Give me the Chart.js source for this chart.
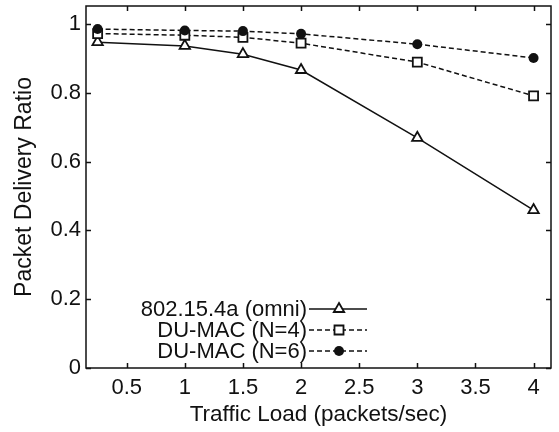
<!DOCTYPE html>
<html lang="en">
<head>
<meta charset="UTF-8">
<title>Packet Delivery Ratio</title>
<script src="https://cdn.jsdelivr.net/npm/chart.js"></script>
<style>
  html, body { margin: 0; padding: 0; background: #fff; }
  #wrap { width: 559px; height: 432px; }
</style>
</head>
<body>
<div id="wrap"><canvas id="pdrChart" width="559" height="432"></canvas></div>
<script>
// data
const trafficLoad = [0.25, 1, 1.5, 2, 3, 4];
const omniPdr = [0.947, 0.936, 0.912, 0.866, 0.669, 0.459];
const duMac4Pdr = [0.972, 0.967, 0.961, 0.944, 0.889, 0.791];
const duMac6Pdr = [0.985, 0.981, 0.979, 0.971, 0.941, 0.901];
const seriesNames = ['802.15.4a (omni)', 'DU-MAC (N=4)', 'DU-MAC (N=6)'];
const xTicks = [0.5, 1, 1.5, 2, 2.5, 3, 3.5, 4];
const yTicks = [0, 0.2, 0.4, 0.6, 0.8, 1];

const ink = '#111';
const fontFamily = '"Liberation Sans", Arial, Helvetica, sans-serif';
const fontSize = 22;

function toPoints(ys) {
    return trafficLoad.map((x, i) => ({ x: x, y: ys[i] }));
}

function drawMarker(ctx, style, x, y) {
    ctx.save();
    ctx.setLineDash([]);
    ctx.lineWidth = 1.8;
    ctx.strokeStyle = ink;
    ctx.beginPath();
    if (style === 'triangle') {
        const r = 6;
        ctx.moveTo(x, y - r);
        ctx.lineTo(x + r * 0.866, y + r * 0.5);
        ctx.lineTo(x - r * 0.866, y + r * 0.5);
        ctx.closePath();
        ctx.fillStyle = '#fff';
        ctx.fill();
        ctx.stroke();
    } else if (style === 'rect') {
        ctx.rect(x - 4.5, y - 4.5, 9, 9);
        ctx.fillStyle = '#fff';
        ctx.fill();
        ctx.stroke();
    } else {
        ctx.arc(x, y, 5, 0, Math.PI * 2);
        ctx.fillStyle = ink;
        ctx.fill();
    }
    ctx.restore();
}

// frame, inward ticks on all four sides, and the key
const framePlugin = {
    id: 'frame',
    afterDraw(chart) {
        const ctx = chart.ctx;
        const area = chart.chartArea;
        const xs = chart.scales.x;
        const ys = chart.scales.y;
        const tick = 5;
        ctx.save();
        ctx.strokeStyle = ink;
        ctx.lineWidth = 1.5;
        ctx.strokeRect(area.left, area.top, area.right - area.left, area.bottom - area.top);
        ctx.beginPath();
        xTicks.forEach(v => {
            const px = Math.round(xs.getPixelForValue(v)) + 0.5;
            ctx.moveTo(px, area.bottom); ctx.lineTo(px, area.bottom - tick);
            ctx.moveTo(px, area.top); ctx.lineTo(px, area.top + tick);
        });
        yTicks.forEach(v => {
            const py = Math.round(ys.getPixelForValue(v)) + 0.5;
            ctx.moveTo(area.left, py); ctx.lineTo(area.left + tick, py);
            ctx.moveTo(area.right, py); ctx.lineTo(area.right - tick, py);
        });
        ctx.stroke();

        // key: text, then line sample with marker
        ctx.font = fontSize + 'px ' + fontFamily;
        ctx.fillStyle = ink;
        ctx.textAlign = 'right';
        ctx.textBaseline = 'middle';
        chart.data.datasets.forEach((ds, i) => {
            const y = 309 + i * 21;
            ctx.fillText(ds.label, 307, y + 1);
            ctx.beginPath();
            ctx.setLineDash(ds.borderDash || []);
            ctx.lineWidth = ds.borderWidth;
            ctx.moveTo(309, y);
            ctx.lineTo(367, y);
            ctx.stroke();
            drawMarker(ctx, ds.markerStyle, 339, y);
        });
        ctx.restore();
    }
};

// point markers on top of the lines, positioned by the scales
const markerPlugin = {
    id: 'markers',
    afterDatasetsDraw(chart) {
        const xs = chart.scales.x;
        const ys = chart.scales.y;
        chart.data.datasets.forEach(ds => {
            ds.data.forEach(p => {
                drawMarker(chart.ctx, ds.markerStyle, xs.getPixelForValue(p.x), ys.getPixelForValue(p.y));
            });
        });
    }
};

const ctx = document.getElementById('pdrChart').getContext('2d');
const pdrChart = new Chart(ctx, {
    type: 'line',
    data: {
        datasets: [
            { label: seriesNames[0], data: toPoints(omniPdr), markerStyle: 'triangle', borderDash: [] },
            { label: seriesNames[1], data: toPoints(duMac4Pdr), markerStyle: 'rect', borderDash: [5, 3] },
            { label: seriesNames[2], data: toPoints(duMac6Pdr), markerStyle: 'circle', borderDash: [5, 3] }
        ].map(ds => Object.assign(ds, {
            borderColor: ink,
            borderWidth: 1.5,
            pointRadius: 0,
            fill: false,
            tension: 0,
            clip: false
        }))
    },
    options: {
        responsive: false,
        animation: false,
        devicePixelRatio: 1,
        layout: { padding: { top: 6, right: 8, left: 0, bottom: 0 } },
        plugins: {
            legend: { display: false },
            tooltip: { enabled: false }
        },
        scales: {
            x: {
                type: 'linear',
                min: 0.15,
                max: 4.15,
                afterBuildTicks: scale => { scale.ticks = xTicks.map(v => ({ value: v })); },
                afterFit: scale => { scale.height = 64; scale.paddingLeft = 0; scale.paddingRight = 0; },
                grid: { display: false, drawTicks: false },
                border: { display: false },
                ticks: {
                    color: ink,
                    padding: 7,
                    maxRotation: 0,
                    font: { family: fontFamily, size: fontSize },
                    callback: v => String(v)
                },
                title: {
                    display: true,
                    text: 'Traffic Load (packets/sec)',
                    color: ink,
                    padding: { top: 0, bottom: 4 },
                    font: { family: fontFamily, size: 22.5 }
                }
            },
            y: {
                type: 'linear',
                min: 0,
                max: 1.052,
                afterBuildTicks: scale => { scale.ticks = yTicks.map(v => ({ value: v })); },
                afterFit: scale => { scale.width = 86; scale.paddingTop = 0; scale.paddingBottom = 0; },
                grid: { display: false, drawTicks: false },
                border: { display: false },
                ticks: {
                    color: ink,
                    padding: 5,
                    font: { family: fontFamily, size: fontSize },
                    callback: v => String(v)
                },
                title: {
                    display: true,
                    text: 'Packet Delivery Ratio',
                    color: ink,
                    padding: { top: 11, bottom: 0 },
                    font: { family: fontFamily, size: 23 }
                }
            }
        }
    },
    plugins: [framePlugin, markerPlugin]
});
</script>
</body>
</html>
